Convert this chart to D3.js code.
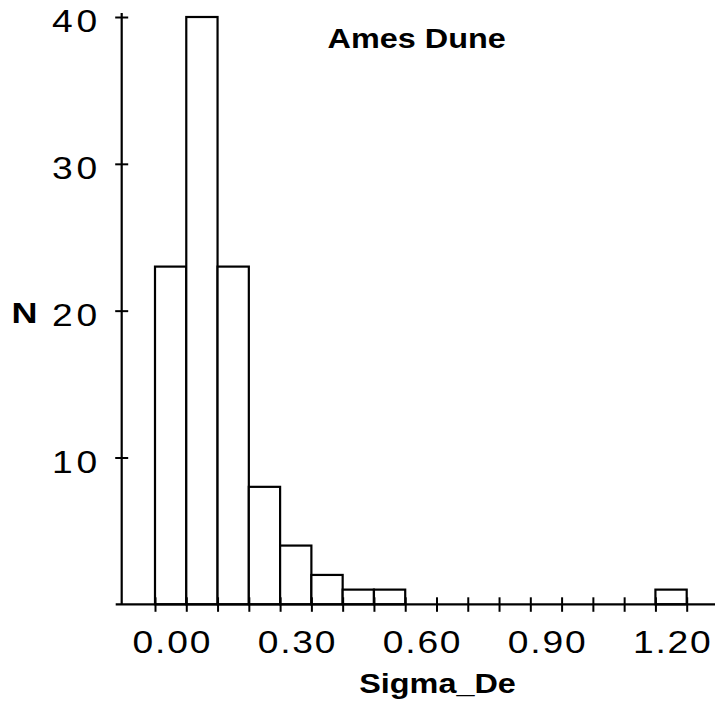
<!DOCTYPE html>
<html>
<head>
<meta charset="utf-8">
<script src="https://cdn.jsdelivr.net/npm/d3@7"></script>
<style>
  html, body { margin: 0; padding: 0; background: #fff; }
  svg { display: block; }
  text { font-family: "Liberation Sans", Arial, Helvetica, sans-serif; fill: #000; }
</style>
</head>
<body>
<svg id="chart" width="715" height="710"></svg>
<script>
// Histogram of Sigma_De, bin width 0.075, bins centred on these values
const binCenters = [0.000, 0.075, 0.150, 0.225, 0.300, 0.375, 0.450, 0.525, 0.600,
                    0.675, 0.750, 0.825, 0.900, 0.975, 1.050, 1.125, 1.200];
const counts     = [23, 40, 23, 8, 4, 2, 1, 1, 0, 0, 0, 0, 0, 0, 0, 0, 1];
const binWidth = 0.075;

const xLabelValues = [0.00, 0.30, 0.60, 0.90, 1.20];
const xLabels      = ["0.00", "0.30", "0.60", "0.90", "1.20"];
const yTickValues  = [10, 20, 30, 40];

const title = "Ames Dune";
const xTitle = "Sigma_De";
const yTitle = "N";

const svg = d3.select("#chart");
const stretch = 1.2;           // wide lettering
const axisY = 604.3, axisX = 121.7;

const x = d3.scaleLinear()
  .domain([binCenters[0] - binWidth / 2, binCenters[binCenters.length - 1] + binWidth / 2])
  .range([155, 686.7]);
const y = d3.scaleLinear().domain([0, 40]).range([axisY, 17]);

// bars
svg.append("g").selectAll("rect")
  .data(binCenters.map((c, i) => ({ c, n: counts[i] })).filter(d => d.n > 0))
  .join("rect")
  .attr("x", d => x(d.c - binWidth / 2))
  .attr("width", d => x(d.c + binWidth / 2) - x(d.c - binWidth / 2))
  .attr("y", d => y(d.n))
  .attr("height", d => y(0) - y(d.n))
  .attr("fill", "#fff")
  .attr("stroke", "#000")
  .attr("stroke-width", 2.2);

// x axis: line, tick marks at bin edges, labels at bin centres
svg.append("line")
  .attr("x1", axisX - 6).attr("x2", 715)
  .attr("y1", axisY).attr("y2", axisY)
  .attr("stroke", "#000").attr("stroke-width", 2.2);

const binEdges = binCenters.map(c => c - binWidth / 2).concat([binCenters[binCenters.length - 1] + binWidth / 2]);
const xTicks = svg.append("g").attr("transform", `translate(0,${axisY})`)
  .call(d3.axisBottom(x).tickValues(binEdges).tickFormat("").tickSize(7));
xTicks.select(".domain").remove();
xTicks.selectAll(".tick line").attr("y1", -7).attr("y2", 7.5).attr("stroke-width", 2);

const xLab = svg.append("g").attr("transform", `translate(0,${axisY})`)
  .call(d3.axisBottom(x).tickValues(xLabelValues).tickFormat((d, i) => xLabels[i]).tickSize(0));
xLab.select(".domain").remove();
xLab.selectAll(".tick text")
  .attr("x", 1).attr("y", 0).attr("dy", 0)
  .attr("transform", `translate(0,48.6) scale(${stretch},1)`)
  .style("font-size", "31px")
  .style("letter-spacing", "1.5px");

// y axis
const yAx = svg.append("g").attr("transform", `translate(${axisX},0)`)
  .call(d3.axisLeft(y).tickValues(yTickValues).tickSize(6.5));
yAx.select(".domain")
  .attr("d", `M0,${y(40) - 4}V${axisY}`)
  .attr("stroke-width", 2.2);
yAx.selectAll(".tick line").attr("x1", -6.5).attr("x2", 6.5).attr("stroke-width", 2);
yAx.selectAll(".tick text")
  .attr("x", 0).attr("dy", 0)
  .attr("transform", `translate(-21,14.7) scale(${stretch},1)`)
  .style("font-size", "31px")
  .style("letter-spacing", "3px");

// titles
function stretchedText(str, cx, baseline, size, weight) {
  svg.append("text")
    .attr("transform", `translate(${cx},${baseline}) scale(${stretch},1)`)
    .attr("text-anchor", "middle")
    .style("font-size", size + "px")
    .style("font-weight", weight)
    .text(str);
}
stretchedText(title, 416.7, 48.3, 27, "bold");
stretchedText(xTitle, 437.5, 693.3, 27, "bold");
stretchedText(yTitle, 24.5, 322.7, 30, "bold");
</script>
</body>
</html>
